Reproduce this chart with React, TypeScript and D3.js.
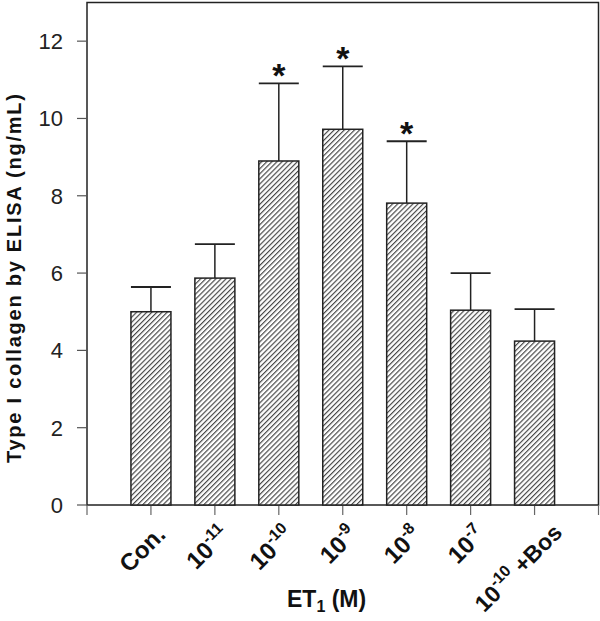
import React from "react";
import * as d3 from "d3";

// Category labels (base text, superscript, suffix)
const labelBase = ["Con.", "10", "10", "10", "10", "10", "10"];
const labelSup = ["", "-11", "-10", "-9", "-8", "-7", "-10"];
const labelSuffix = ["", "", "", "", "", "", " +Bos"];

// Type I collagen by ELISA (ng/mL)
const means = [5.0, 5.87, 8.9, 9.72, 7.81, 5.04, 4.24];
const errors = [0.64, 0.88, 2.01, 1.63, 1.6, 0.96, 0.83];
const significant = [false, false, true, true, true, false, false];

const yTicks = [0, 2, 4, 6, 8, 10, 12];

const FONT = "Arial, 'Liberation Sans', Helvetica, sans-serif";

export default function App() {
  const W = 600;
  const H = 621;
  const x = d3.scaleLinear().domain([0, means.length + 1]).range([87, 598.5]);
  const y = d3.scaleLinear().domain([0, 13]).range([505, 2.5]);
  const barW = 40;
  const xTicks = d3.range(0, means.length + 2);
  const [x0, x1] = x.range();
  const [yb, yt] = y.range();

  return (
    <svg
      width={W}
      height={H}
      viewBox={`0 0 ${W} ${H}`}
      style={{ position: "absolute", left: 0, top: 0, background: "#fff" }}
      fontFamily={FONT}
    >
      <defs>
        <pattern
          id="hatch"
          width={3.6}
          height={10}
          patternUnits="userSpaceOnUse"
          patternTransform="rotate(45)"
        >
          <rect width={3.6} height={10} fill="#fff" />
          <line x1={0.6} y1={0} x2={0.6} y2={10} stroke="#3a3a3a" strokeWidth={1.1} />
        </pattern>
      </defs>
      <rect x={0} y={0} width={W} height={H} fill="#fff" />

      {/* frame */}
      <rect
        x={x0}
        y={yt}
        width={x1 - x0}
        height={yb - yt}
        fill="none"
        stroke="#222"
        strokeWidth={1.5}
      />

      {/* y ticks */}
      {yTicks.map((t) => (
        <g key={`yt${t}`}>
          <line x1={x0 - 10} x2={x0} y1={y(t)} y2={y(t)} stroke="#555" strokeWidth={1.2} />
          <text
            x={63}
            y={y(t)}
            dy="0.36em"
            textAnchor="end"
            fontSize={22}
            fill="#222"
          >
            {t}
          </text>
        </g>
      ))}

      {/* x ticks */}
      {xTicks.map((t) => (
        <line
          key={`xt${t}`}
          x1={x(t)}
          x2={x(t)}
          y1={yb}
          y2={yb + 10}
          stroke="#666"
          strokeWidth={1.2}
        />
      ))}

      {/* bars */}
      {means.map((m, i) => {
        const cx = x(i + 1);
        const top = y(m);
        const cap = y(m + errors[i]);
        return (
          <g key={`bar${i}`}>
            <line x1={cx} x2={cx} y1={top} y2={cap} stroke="#222" strokeWidth={1.5} />
            <line
              x1={cx - barW / 2}
              x2={cx + barW / 2}
              y1={cap}
              y2={cap}
              stroke="#222"
              strokeWidth={1.8}
            />
            <rect
              x={cx - barW / 2}
              y={top}
              width={barW}
              height={yb - top}
              fill="url(#hatch)"
              stroke="#222"
              strokeWidth={1.5}
            />
            {significant[i] && (
              <text
                x={cx}
                y={cap - 15}
                dy="0.55em"
                textAnchor="middle"
                fontSize={34}
                fontWeight="bold"
                fill="#111"
              >
                *
              </text>
            )}
          </g>
        );
      })}

      {/* x labels */}
      {labelBase.map((b, i) => {
        const last = i === labelBase.length - 1;
        const ax = x(i + 1) + (last ? 29 : 16);
        const ay = yb + (last ? 29 : 31);
        return (
          <text
            key={`xl${i}`}
            transform={`translate(${ax},${ay}) rotate(-45)`}
            textAnchor="end"
            fontSize={last ? 23 : 24}
            fontWeight="bold"
            fill="#111"
          >
            {b}
            {labelSup[i] && (
              <tspan fontSize={16} dy={-10}>
                {labelSup[i]}
              </tspan>
            )}
            {labelSuffix[i] && <tspan dy={10}>{labelSuffix[i]}</tspan>}
          </text>
        );
      })}

      {/* y axis title */}
      <text
        transform={`translate(21,${(94 + 463) / 2}) rotate(-90)`}
        textAnchor="middle"
        fontSize={20}
        fontWeight="bold"
        fill="#111"
        textLength={369}
        lengthAdjust="spacing"
      >
        Type I collagen by ELISA (ng/mL)
      </text>

      {/* x axis title */}
      <text x={287} y={607} fontSize={23} fontWeight="bold" fill="#111">
        ET
        <tspan fontSize={16} dy={5}>
          1
        </tspan>
        <tspan dy={-5}> (M)</tspan>
      </text>
    </svg>
  );
}
